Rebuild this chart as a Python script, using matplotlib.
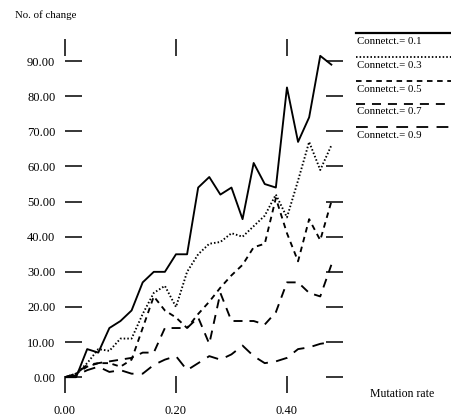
import numpy as np
import matplotlib
matplotlib.use("Agg")
import matplotlib.pyplot as plt
from matplotlib.lines import Line2D

plt.rcParams['font.family'] = ['Liberation Serif', 'DejaVu Serif']
plt.rcParams['lines.scale_dashes'] = False

# Mutation rate steps
mutation_rate = [0.00, 0.02, 0.04, 0.06, 0.08, 0.10, 0.12, 0.14, 0.16, 0.18,
                 0.20, 0.22, 0.24, 0.26, 0.28, 0.30, 0.32, 0.34, 0.36, 0.38,
                 0.40, 0.42, 0.44, 0.46, 0.48]

# No. of change for each connectivity value
conn_01 = [0, 0, 8, 7, 14, 16, 19, 27, 30, 30,
           35, 35, 54, 57, 52, 54, 45, 61, 55, 54,
           82.5, 67, 74, 91.5, 89]
conn_03 = [0, 1, 4, 8, 7.5, 11, 11, 18, 24, 26,
           20, 30, 35, 38, 38.5, 41, 40, 43, 46, 52,
           45.5, 56, 67, 59, 66]
conn_05 = [0, 1, 3, 4, 4, 3, 5, 14, 23, 19,
           17, 14, 18, 21.5, 25.5, 29, 32, 37, 38, 51,
           41, 33, 45, 39, 50]
conn_07 = [0, 1, 3.5, 4, 4.5, 5, 5.5, 7, 7, 14,
           14, 14, 17, 9.5, 24, 16, 16, 16, 15, 18.5,
           27, 27, 24, 23, 32]
conn_09 = [0, 0.5, 2, 3, 1.5, 2, 1, 1, 3.5, 5,
           6, 2, 4, 6, 5, 6.5, 9, 6, 4, 4.5,
           5.5, 8, 8.5, 9.5, 10]

labels = ["Connetct.= 0.1", "Connetct.= 0.3", "Connetct.= 0.5",
          "Connetct.= 0.7", "Connetct.= 0.9"]
series = [conn_01, conn_03, conn_05, conn_07, conn_09]
styles = ['-', (0, (1.1, 1.5)), (0, (4.0, 3.3)), (0, (6.5, 5.0)), (0, (8.5, 6.0))]

xticks = [0.00, 0.20, 0.40]
yticks = [0, 10, 20, 30, 40, 50, 60, 70, 80, 90]

W, H = 451, 418
fig = plt.figure(figsize=(W / 100, H / 100), dpi=100)
ax = fig.add_axes([65 / W, 1 - 393 / H, 278 / W, 354 / H])

for vals, ls in zip(series, styles):
    ax.plot(mutation_rate, vals, color='black', lw=1.35, linestyle=ls)

ax.set_xlim(0, 0.501)
ax.set_ylim(-4.5, 96.3)
for s in ax.spines.values():
    s.set_visible(False)

ax.set_xticks(xticks)
ax.set_xticklabels([f"{v:.2f}" for v in xticks])
ax.set_yticks(yticks)
ax.set_yticklabels([f"{v:.2f}" for v in yticks])
ax.tick_params(axis='both', direction='in', width=1.1, color='black',
               labelsize=9, top=True, right=True)
ax.tick_params(axis='y', length=12.5, pad=7)
ax.tick_params(axis='x', length=12.5, pad=8.5)

fig.text(15 / W, 1 - 15 / H, "No. of change", fontsize=7.8, va='center', ha='left')
fig.text(370 / W, 1 - 394 / H, "Mutation rate", fontsize=8.5, va='center', ha='left')

# legend: line sample above each label
line_y = [33, 57, 81, 104, 127]
text_y = [42, 66, 90, 112, 135]
for lab, ls, ly, ty in zip(labels, styles, line_y, text_y):
    fig.add_artist(Line2D([356 / W, 1.0], [1 - ly / H, 1 - ly / H],
                          transform=fig.transFigure, color='black',
                          lw=1.6 if ls == '-' else 1.3, linestyle=ls))
    fig.text(357 / W, 1 - ty / H, lab, fontsize=7.8, va='center', ha='left')

fig.savefig("out.png", dpi=100)
